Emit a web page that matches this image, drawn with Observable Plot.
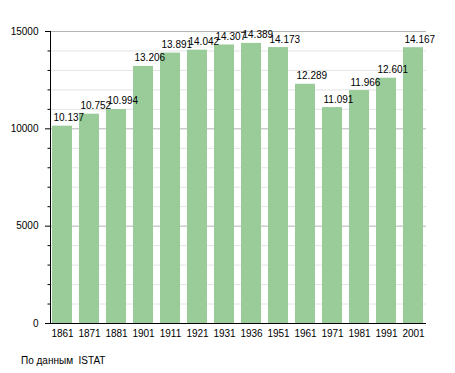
<!DOCTYPE html>
<html>
<head>
<meta charset="utf-8">
<script src="https://cdn.jsdelivr.net/npm/d3@7"></script>
<script src="https://cdn.jsdelivr.net/npm/@observablehq/plot@0.6"></script>
<style>
  html, body { margin: 0; padding: 0; background: #fff; }
  #wrap { position: relative; width: 455px; height: 373px; font-family: "Liberation Sans", Arial, sans-serif; }
  #caption { position: absolute; left: 21px; top: 355px; font-size: 10px; color: #000; white-space: pre; }
</style>
</head>
<body>
<div id="wrap"><div id="caption">По данным  ISTAT</div></div>
<script>
const years = ["1861","1871","1881","1901","1911","1921","1931","1936","1951","1961","1971","1981","1991","2001"];
const population = [10137,10752,10994,13206,13891,14042,14307,14389,14173,12289,11091,11966,12601,14167];
const majorTicks = [0,5000,10000,15000];
const minorTicks = [1000,2000,3000,4000,6000,7000,8000,9000,11000,12000,13000,14000];

const data = years.map((y, i) => ({year: y, value: population[i]}));
const fmt = v => Math.floor(v / 1000) + "." + String(v % 1000).padStart(3, "0");

const chart = Plot.plot({
  width: 455,
  height: 373,
  marginLeft: 50,
  marginRight: 29,
  marginTop: 31,
  marginBottom: 50,
  style: {fontFamily: "Liberation Sans, Arial, sans-serif", fontSize: "10px", background: "#fff", color: "#000"},
  x: {domain: years, paddingInner: 0.25, paddingOuter: 0, label: null, axis: null},
  y: {domain: [0, 15000], label: null, axis: null},
  marks: [
    Plot.ruleY(minorTicks, {stroke: "#e4e4e4", strokeWidth: 1}),
    Plot.ruleY([5000, 10000, 15000], {stroke: "#b4b4b4", strokeWidth: 1}),
    Plot.barY(data, {x: "year", y: "value", fill: "#99cc99"}),
    Plot.text(data, {x: "year", y: "value", text: d => fmt(d.value), textAnchor: "start", dx: -9, dy: -5, lineAnchor: "bottom", fill: "#000", fontSize: 10}),
    Plot.axisY(majorTicks, {tickSize: 5, tickPadding: 7, tickFormat: d => String(d), label: null, fontSize: 10}),
    Plot.axisY(minorTicks, {tickSize: 2.5, tickFormat: () => "", label: null}),
    Plot.axisX({tickSize: 0, tickPadding: 6, label: null, fontSize: 10}),
    Plot.frame({anchor: "left", stroke: "#000"}),
    Plot.ruleY([0], {stroke: "#000"})
  ]
});
document.getElementById("wrap").prepend(chart);
</script>
</body>
</html>
